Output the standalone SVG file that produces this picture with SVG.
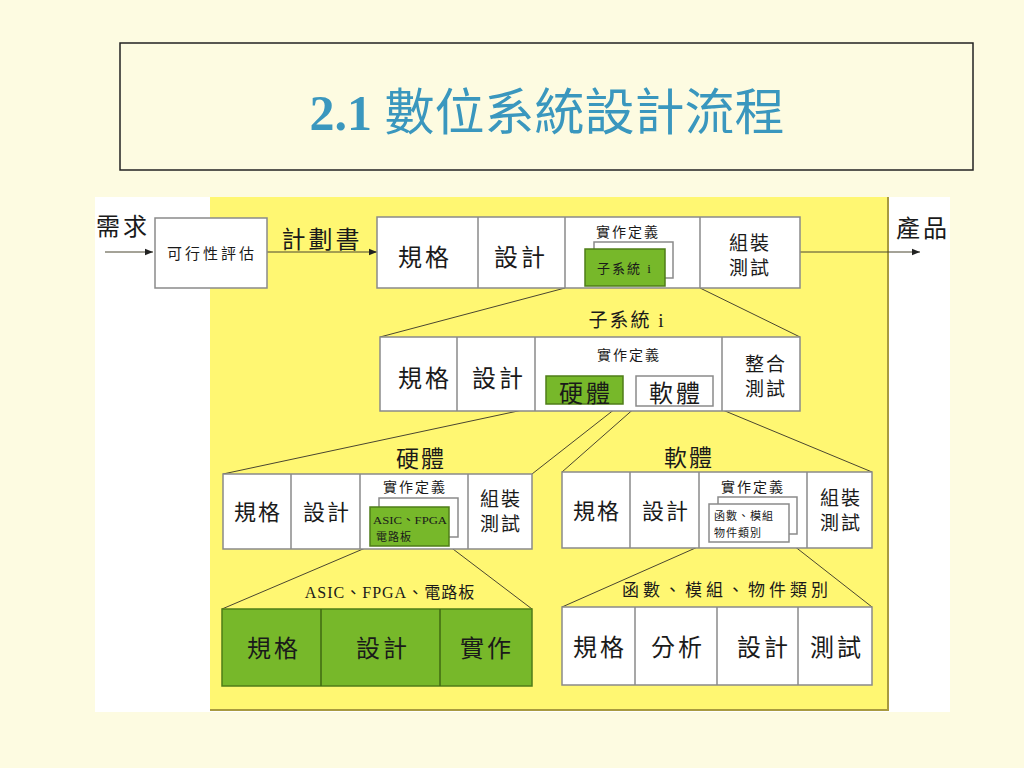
<svg xmlns="http://www.w3.org/2000/svg" width="1024" height="768" viewBox="0 0 1024 768">
<defs>
<marker id="arr" viewBox="0 0 10 10" refX="10" refY="5" markerWidth="8" markerHeight="8" markerUnits="userSpaceOnUse" orient="auto"><path d="M0,1 L10,5 L0,9 z" fill="#222"/></marker>
<style>
text{font-family:"Liberation Serif","Noto Sans CJK TC",serif;fill:#1a1a1a;text-anchor:middle}
.box{fill:#fff;stroke:#8a8a8a;stroke-width:1.5}
.gbox{fill:#77b82a;stroke:#4f7d18;stroke-width:1.5}
.div{stroke:#8a8a8a;stroke-width:1.5}
.gdiv{stroke:#3f6a12;stroke-width:1.5}
.con{stroke:#4a4630;stroke-width:1;fill:none}
.l{font-size:24px;letter-spacing:3px}
.m{font-size:19px;letter-spacing:2px}
.s{font-size:14px;letter-spacing:2px}
.t{font-size:11px;text-anchor:start}
</style>
</defs>
<rect width="1024" height="768" fill="#fdfbe1"/>
<g id="title">
<rect x="120" y="43" width="853" height="127" fill="none" stroke="#222" stroke-width="1.5"/>
<text x="547" y="130" style="font-size:50px;fill:#3a97be"><tspan style="font-weight:bold">2.1</tspan> 數位系統設計流程</text>
</g>
<rect x="95" y="197" width="855" height="515" fill="#fff"/>
<rect x="210" y="197" width="678" height="513" fill="#fff772"/>
<path d="M888,197 V710 H210" fill="none" stroke="#a89a40" stroke-width="2"/>
<g id="connectors">
<line class="con" x1="105" y1="252" x2="153" y2="252" marker-end="url(#arr)"/>
<line class="con" x1="267" y1="252" x2="377" y2="252" marker-end="url(#arr)"/>
<line class="con" x1="800" y1="252" x2="920" y2="252" marker-end="url(#arr)"/>
<line class="con" x1="565" y1="288" x2="380" y2="337"/>
<line class="con" x1="700" y1="288" x2="800" y2="337"/>
<line class="con" x1="546" y1="405" x2="223" y2="474"/>
<line class="con" x1="620" y1="405" x2="532" y2="474"/>
<line class="con" x1="637" y1="406" x2="562" y2="472"/>
<line class="con" x1="713" y1="406" x2="872" y2="472"/>
<line class="con" x1="370" y1="546" x2="222" y2="609"/>
<line class="con" x1="449" y1="546" x2="532" y2="609"/>
<line class="con" x1="709" y1="542" x2="562" y2="607"/>
<line class="con" x1="789" y1="542" x2="872" y2="607"/>
</g>
<g id="labels">
<text class="l" x="123" y="235">需求</text>
<text class="l" x="322" y="248">計劃書</text>
<text class="l" x="923" y="237">產品</text>
<text class="m" x="627" y="327">子系統 i</text>
<text style="font-size:23px;letter-spacing:2px" x="421" y="467">硬體</text>
<text style="font-size:23px;letter-spacing:2px" x="689" y="466">軟體</text>
<text style="font-size:16px;letter-spacing:1px" x="390" y="598">ASIC、FPGA、電路板</text>
<text style="font-size:17px;letter-spacing:4px" x="727" y="596">函數、模組、物件類別</text>
</g>
<g id="feasibility">
<rect class="box" x="155" y="218" width="112" height="70"/>
<text style="font-size:15px;letter-spacing:3px" x="212" y="259">可行性評估</text>
</g>
<g id="system">
<rect class="box" x="377" y="217" width="423" height="71"/>
<line class="div" x1="478" y1="217" x2="478" y2="288"/>
<line class="div" x1="565" y1="217" x2="565" y2="288"/>
<line class="div" x1="700" y1="217" x2="700" y2="288"/>
<text class="l" x="425" y="266">規格</text>
<text class="l" x="521" y="266">設計</text>
<text class="s" x="628" y="237">實作定義</text>
<rect class="box" x="594" y="242" width="79" height="36"/>
<rect class="gbox" x="585" y="249" width="80" height="37"/>
<text style="font-size:13px;letter-spacing:2px" x="625" y="273">子系統 i</text>
<text class="m" x="750" y="250">組裝</text>
<text class="m" x="750" y="275">測試</text>
</g>
<g id="subsystem">
<rect class="box" x="380" y="337" width="420" height="74"/>
<line class="div" x1="457" y1="337" x2="457" y2="411"/>
<line class="div" x1="535" y1="337" x2="535" y2="411"/>
<line class="div" x1="722" y1="337" x2="722" y2="411"/>
<text class="l" x="425" y="387">規格</text>
<text class="l" x="499" y="387">設計</text>
<text class="s" x="629" y="360">實作定義</text>
<rect class="gbox" x="546" y="376" width="77" height="28"/>
<text class="l" x="586" y="402">硬體</text>
<rect class="box" x="636" y="376" width="77" height="30"/>
<text class="l" x="676" y="402">軟體</text>
<text class="m" x="766" y="371">整合</text>
<text class="m" x="766" y="396">測試</text>
</g>
<g id="hardware">
<rect class="box" x="223" y="474" width="309" height="75"/>
<line class="div" x1="291" y1="474" x2="291" y2="549"/>
<line class="div" x1="360" y1="474" x2="360" y2="549"/>
<line class="div" x1="468" y1="474" x2="468" y2="549"/>
<text style="font-size:22px;letter-spacing:2px" x="258" y="520">規格</text>
<text style="font-size:22px;letter-spacing:2px" x="327" y="520">設計</text>
<text class="s" x="415" y="492">實作定義</text>
<rect class="box" x="379" y="498" width="79" height="39"/>
<rect class="gbox" x="370" y="507" width="79" height="39"/>
<text class="t" x="373" y="524" textLength="74" lengthAdjust="spacingAndGlyphs">ASIC、FPGA</text>
<text class="t" x="376" y="541" style="letter-spacing:1px">電路板</text>
<text class="m" x="501" y="506">組裝</text>
<text class="m" x="501" y="531">測試</text>
</g>
<g id="software">
<rect class="box" x="562" y="472" width="310" height="76"/>
<line class="div" x1="630" y1="472" x2="630" y2="548"/>
<line class="div" x1="699" y1="472" x2="699" y2="548"/>
<line class="div" x1="807" y1="472" x2="807" y2="548"/>
<text style="font-size:22px;letter-spacing:2px" x="597" y="519">規格</text>
<text style="font-size:22px;letter-spacing:2px" x="666" y="519">設計</text>
<text class="s" x="753" y="492">實作定義</text>
<rect class="box" x="718" y="497" width="79" height="37"/>
<rect class="box" x="709" y="504" width="80" height="38"/>
<text class="t" x="714" y="520" style="letter-spacing:1px">函數、模組</text>
<text class="t" x="714" y="537" style="letter-spacing:1px">物件類別</text>
<text class="m" x="841" y="505">組裝</text>
<text class="m" x="841" y="530">測試</text>
</g>
<g id="asic">
<rect class="gbox" x="222" y="609" width="310" height="77"/>
<line class="gdiv" x1="321" y1="609" x2="321" y2="686"/>
<line class="gdiv" x1="440" y1="609" x2="440" y2="686"/>
<text class="l" x="274" y="657">規格</text>
<text class="l" x="383" y="657">設計</text>
<text class="l" x="487" y="657">實作</text>
</g>
<g id="functions">
<rect class="box" x="562" y="607" width="310" height="78"/>
<line class="div" x1="635" y1="607" x2="635" y2="685"/>
<line class="div" x1="717" y1="607" x2="717" y2="685"/>
<line class="div" x1="798" y1="607" x2="798" y2="685"/>
<text class="l" x="600" y="656">規格</text>
<text class="l" x="678" y="656">分析</text>
<text class="l" x="764" y="656">設計</text>
<text class="l" x="837" y="656">測試</text>
</g>
</svg>
